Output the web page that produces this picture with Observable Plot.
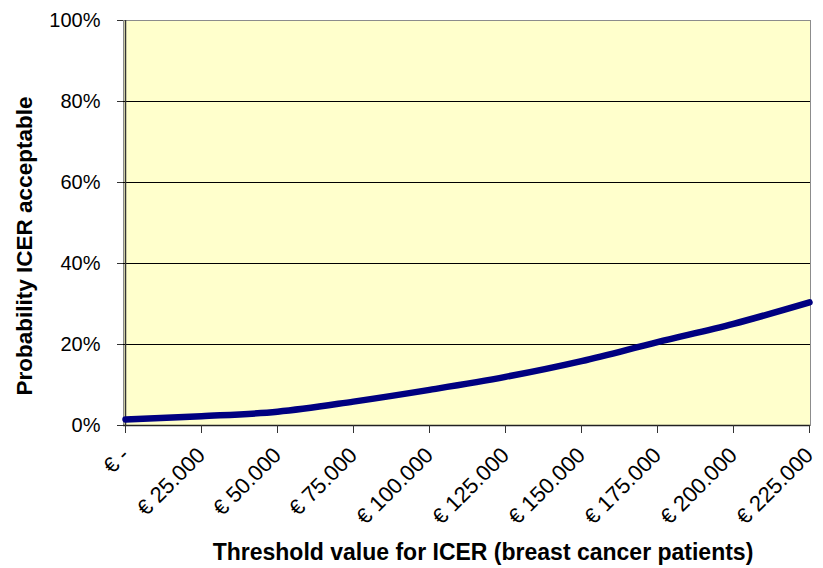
<!DOCTYPE html>
<html>
<head>
<meta charset="utf-8">
<script src="https://cdn.jsdelivr.net/npm/d3@7"></script>
<script src="https://cdn.jsdelivr.net/npm/@observablehq/plot@0.6"></script>
<style>
  html, body { margin: 0; padding: 0; background: #ffffff; }
  #chart svg { display: block; }
</style>
</head>
<body>
<div id="chart"></div>
<script>
const thresholdLabels = ["€ -", "€ 25.000", "€ 50.000", "€ 75.000", "€ 100.000", "€ 125.000", "€ 150.000", "€ 175.000", "€ 200.000", "€ 225.000"];
const probability = [1.5, 2.3, 3.4, 5.9, 8.8, 12.0, 15.9, 20.6, 25.1, 30.4];
const yTicks = [0, 20, 40, 60, 80, 100];
const gridTicks = [20, 40, 60, 80];

const data = thresholdLabels.map((label, i) => ({label, p: probability[i]}));
const font = "Liberation Sans, Arial, Helvetica, sans-serif";

const chart = Plot.plot({
  width: 823,
  height: 568,
  marginLeft: 123,
  marginRight: 13,
  marginTop: 20,
  marginBottom: 143,
  style: {fontFamily: font, background: "#ffffff", color: "#000"},
  x: {type: "point", domain: thresholdLabels, padding: 0},
  y: {domain: [0, 100]},
  marks: [
    Plot.frame({fill: "#FFFFCC", stroke: "#8c8c8c"}),
    Plot.ruleY(gridTicks, {stroke: "#000", strokeWidth: 1}),
    Plot.ruleX([thresholdLabels[0]], {stroke: "#333", strokeWidth: 1.5}),
    Plot.ruleY([0], {stroke: "#222", strokeWidth: 1.5}),
    Plot.axisY({ticks: yTicks, tickFormat: d => d + "%", tickSize: 6, tickPadding: 17, fontSize: 20, label: null, stroke: "#333"}),
    Plot.axisX({tickRotate: -45, tickSize: 8, tickPadding: 18, fontSize: 22, label: null, stroke: "#333"}),
    Plot.line(data, {x: "label", y: "p", stroke: "#000080", strokeWidth: 6.5, curve: "monotone-x"}),
    Plot.text(["Probability ICER acceptable"], {frameAnchor: "left", dx: -99, dy: 23, rotate: -90, textAnchor: "middle", text: d => d, fontSize: 22.5, fontWeight: "bold", fill: "#000"}),
    Plot.text(["Threshold value for ICER (breast cancer patients)"], {frameAnchor: "bottom", dx: 16, dy: 127, lineAnchor: "middle", text: d => d, fontSize: 23, fontWeight: "bold", fill: "#000"})
  ]
});
document.getElementById("chart").appendChild(chart);
</script>
</body>
</html>
